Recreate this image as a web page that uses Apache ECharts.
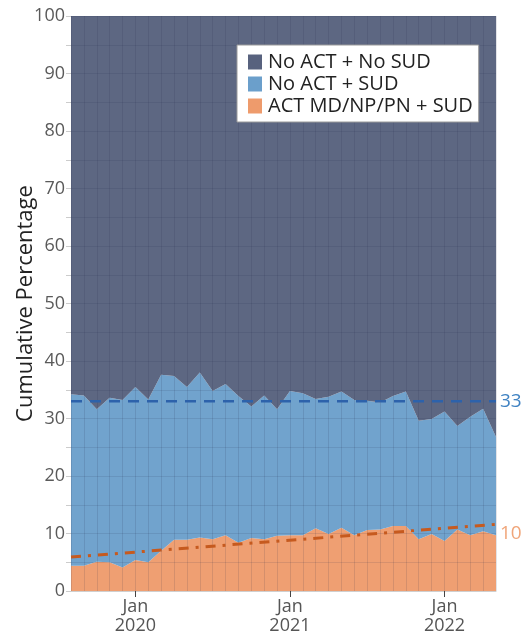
<!DOCTYPE html>
<html>
<head>
<meta charset="utf-8">
<script src="https://cdn.jsdelivr.net/npm/echarts@6/dist/echarts.min.js"></script>
<style>
  html, body { margin: 0; padding: 0; background: #ffffff; }
  #chart { width: 521px; height: 631px; }
</style>
</head>
<body>
<div id="chart"></div>
<script>
// Monthly observations, Aug 2019 – May 2022
const months = [
  '2019-08','2019-09','2019-10','2019-11','2019-12',
  '2020-01','2020-02','2020-03','2020-04','2020-05','2020-06',
  '2020-07','2020-08','2020-09','2020-10','2020-11','2020-12',
  '2021-01','2021-02','2021-03','2021-04','2021-05','2021-06',
  '2021-07','2021-08','2021-09','2021-10','2021-11','2021-12',
  '2022-01','2022-02','2022-03','2022-04','2022-05'
];

// Cumulative percentage: top of the "ACT MD/NP/PN + SUD" band
const actSud = [
  4.4, 4.4, 5.1, 5.0, 4.1,
  5.4, 5.0, 7.0, 8.9, 8.9, 9.3,
  9.0, 9.7, 8.4, 9.2, 9.0, 9.6,
  9.7, 9.7, 10.9, 9.9, 11.0, 9.7,
  10.6, 10.7, 11.3, 11.3, 9.0, 9.9,
  8.7, 10.7, 9.7, 10.4, 9.7
];

// Cumulative percentage: top of the "No ACT + SUD" band (all SUD patients)
const allSud = [
  34.2, 34.0, 31.6, 33.6, 33.2,
  35.5, 33.3, 37.6, 37.4, 35.5, 38.0,
  34.8, 36.0, 33.9, 32.1, 34.0, 31.6,
  34.8, 34.4, 33.4, 33.8, 34.7, 33.2,
  33.1, 32.8, 33.9, 34.7, 29.6, 29.9,
  31.2, 28.7, 30.3, 31.7, 26.8
];

// Reference levels
const sudMean = 33;          // average SUD share
const actMean = 10;          // average ACT share
const actTrendEnds = [5.9, 11.6];   // linear trend of the ACT share, first and last month

const seriesNames = ['No ACT + No SUD', 'No ACT + SUD', 'ACT MD/NP/PN + SUD'];
const colors = { dark: '#58627e', blue: '#6b9fcb', orange: '#ee9b6c' };

// Band thicknesses for stacking
const bandAct = actSud.slice();
const bandNoActSud = allSud.map((v, i) => +(v - actSud[i]).toFixed(2));
const bandRest = allSud.map(v => +(100 - v).toFixed(2));

const n = months.length;
const endpointsOnly = (a, b) => months.map((_, i) => i === 0 ? a : (i === n - 1 ? b : null));

const FONT = '"Open Sans", "Noto Sans", sans-serif';
const isJan = (idx) => months[idx].endsWith('-01');

const chart = echarts.init(document.getElementById('chart'), null, { renderer: 'canvas' });

chart.setOption({
  animation: false,
  backgroundColor: '#ffffff',
  textStyle: { fontFamily: FONT },
  grid: { left: 71, right: 25, top: 16, bottom: 40, containLabel: false, outerBoundsMode: 'none' },
  legend: {
    data: seriesNames,
    orient: 'vertical',
    left: 237,
    top: 45,
    padding: [7, 6, 6, 11],
    backgroundColor: '#ffffff',
    borderColor: '#9a9a9a',
    borderWidth: 1,
    itemWidth: 14,
    itemHeight: 15,
    itemGap: 2,
    icon: 'rect',
    textStyle: { fontFamily: FONT, fontSize: 20, color: '#222', lineHeight: 16, padding: [0, 0, 0, 1] }
  },
  xAxis: {
    type: 'category',
    data: months,
    boundaryGap: false,
    z: 3,
    axisLine: { show: true, lineStyle: { color: '#cfcfcf', width: 1 } },
    axisTick: {
      show: true,
      alignWithLabel: true,
      interval: (idx) => isJan(idx),
      length: 6,
      lineStyle: { color: '#444' }
    },
    axisLabel: {
      interval: (idx) => isJan(idx),
      formatter: (v) => 'Jan\n' + v.slice(0, 4),
      fontFamily: FONT,
      fontSize: 18,
      lineHeight: 19,
      color: '#555',
      margin: 6
    },
    splitLine: { show: true, interval: 0, lineStyle: { color: 'rgba(30,40,70,0.13)', width: 1 } }
  },
  yAxis: {
    type: 'value',
    min: 0,
    max: 100,
    interval: 5,
    z: 3,
    name: 'Cumulative Percentage',
    nameLocation: 'middle',
    nameGap: 34,
    nameMoveOverlap: false,
    nameTextStyle: { fontFamily: FONT, fontSize: 22, color: '#222' },
    axisLine: { show: false },
    axisTick: { show: true, length: 5, lineStyle: { color: '#cccccc' } },
    axisLabel: {
      formatter: (v) => (v % 10 === 0 ? String(v) : ''),
      fontFamily: FONT,
      fontSize: 18,
      color: '#5a5a5a',
      margin: 6
    },
    splitLine: { show: true, lineStyle: { color: 'rgba(30,40,70,0.12)', width: 1 } }
  },
  series: [
    {
      name: seriesNames[2],
      type: 'line',
      stack: 'share',
      data: bandAct,
      symbol: 'none',
      lineStyle: { width: 0 },
      itemStyle: { color: colors.orange },
      areaStyle: { color: colors.orange, opacity: 0.96 },
      z: 2
    },
    {
      name: seriesNames[1],
      type: 'line',
      stack: 'share',
      data: bandNoActSud,
      symbol: 'none',
      lineStyle: { width: 0 },
      itemStyle: { color: colors.blue },
      areaStyle: { color: colors.blue, opacity: 0.96 },
      z: 2
    },
    {
      name: seriesNames[0],
      type: 'line',
      stack: 'share',
      data: bandRest,
      symbol: 'none',
      lineStyle: { width: 0 },
      itemStyle: { color: colors.dark },
      areaStyle: { color: colors.dark, opacity: 0.97 },
      z: 2
    },
    {
      name: 'SUD mean',
      type: 'line',
      data: endpointsOnly(sudMean, sudMean),
      connectNulls: true,
      symbol: 'none',
      silent: true,
      lineStyle: { color: '#2d62ab', width: 2.5, type: [11, 8] },
      endLabel: {
        show: true,
        formatter: () => String(sudMean),
        color: '#3f82c2',
        fontFamily: FONT,
        fontSize: 19,
        distance: 4
      },
      z: 5
    },
    {
      name: 'ACT trend',
      type: 'line',
      data: endpointsOnly(actTrendEnds[0], actTrendEnds[1]),
      connectNulls: true,
      symbol: 'none',
      silent: true,
      lineStyle: { color: '#c65a1f', width: 3, type: [10, 7, 3, 7] },
      z: 5
    },
    {
      name: 'ACT mean',
      type: 'scatter',
      data: months.map((_, i) => i === n - 1 ? actMean : null),
      symbolSize: 0,
      silent: true,
      label: {
        show: true,
        position: 'right',
        distance: 4,
        formatter: () => String(actMean),
        color: '#ec8f58',
        fontFamily: FONT,
        fontSize: 19
      },
      z: 5
    }
  ]
});
</script>
</body>
</html>
